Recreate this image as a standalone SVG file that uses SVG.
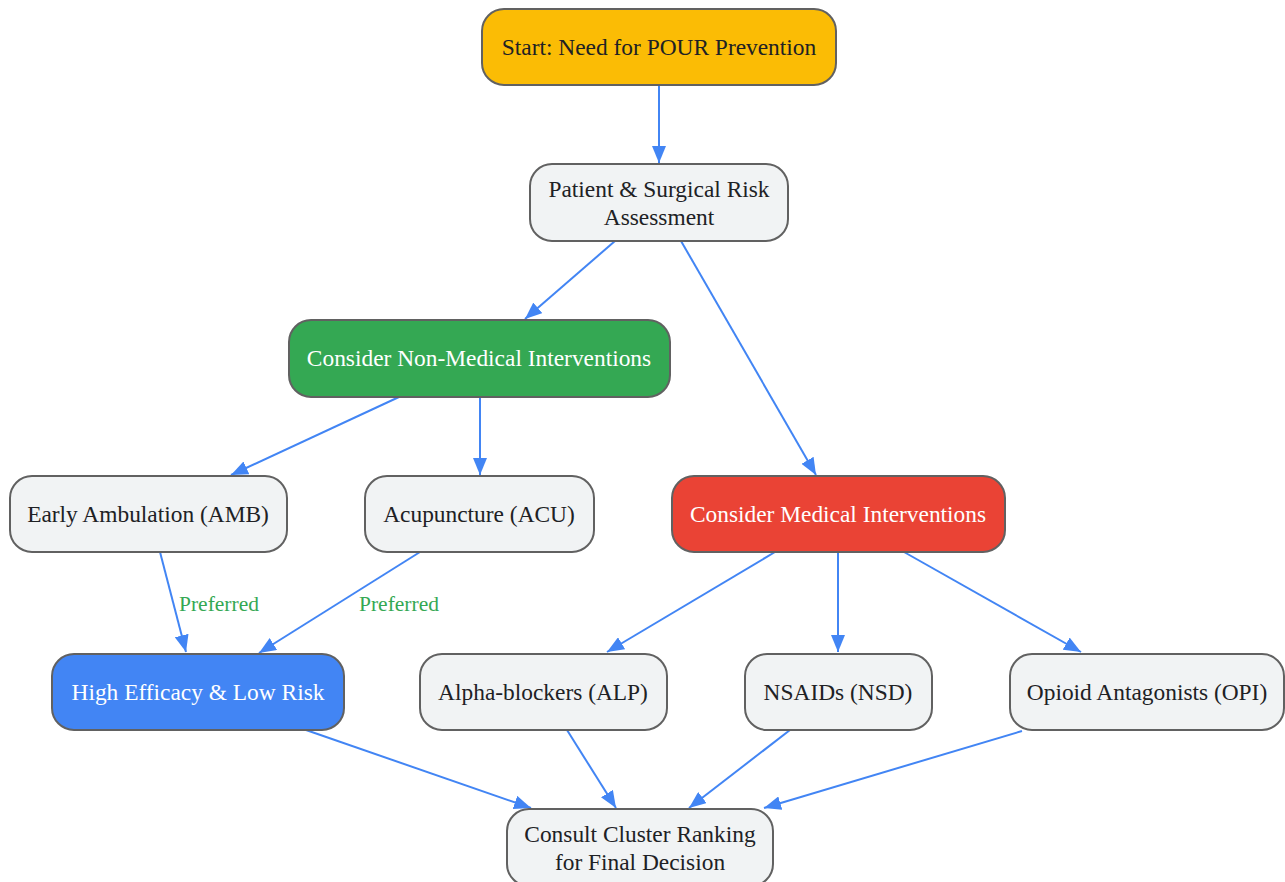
<svg xmlns="http://www.w3.org/2000/svg" width="1285" height="882" viewBox="0 0 1285 882">
<style>
.n rect{stroke:#616161;stroke-width:2}
.g rect{fill:#F1F3F4}
.n text{font-family:"Liberation Serif","Times New Roman",serif;font-size:23.4px;text-anchor:middle;dominant-baseline:central;fill:#202124}
.w text{fill:#ffffff}
.e line{stroke:#4285F4;stroke-width:2;fill:none}
.lbl{font-family:"Liberation Serif","Times New Roman",serif;font-size:21.5px;fill:#34A853;text-anchor:middle;dominant-baseline:central}
</style>
<defs>
<marker id="ah" markerUnits="userSpaceOnUse" markerWidth="18" markerHeight="14" refX="17" refY="7" orient="auto">
<path d="M0,0 L17,7 L0,14 z" fill="#4285F4"/>
</marker>
</defs>
<rect width="1285" height="882" fill="#ffffff"/>
<g id="edges" class="e">
<line x1="659" y1="85" x2="659" y2="163" marker-end="url(#ah)"/>
<line x1="615" y1="241" x2="525" y2="319" marker-end="url(#ah)"/>
<line x1="681" y1="241" x2="816" y2="475" marker-end="url(#ah)"/>
<line x1="399" y1="397" x2="231" y2="475" marker-end="url(#ah)"/>
<line x1="480" y1="397" x2="480" y2="475" marker-end="url(#ah)"/>
<line x1="160" y1="552" x2="186" y2="652" marker-end="url(#ah)"/>
<line x1="420" y1="552" x2="259" y2="653" marker-end="url(#ah)"/>
<line x1="775" y1="552" x2="607" y2="652" marker-end="url(#ah)"/>
<line x1="838" y1="552" x2="838" y2="652" marker-end="url(#ah)"/>
<line x1="904" y1="552" x2="1081" y2="652" marker-end="url(#ah)"/>
<line x1="306" y1="730" x2="531" y2="808" marker-end="url(#ah)"/>
<line x1="567" y1="730" x2="616" y2="808" marker-end="url(#ah)"/>
<line x1="790" y1="730" x2="689" y2="808" marker-end="url(#ah)"/>
<line x1="1022" y1="731" x2="764" y2="808" marker-end="url(#ah)"/>
<text class="lbl" x="219" y="604">Preferred</text>
<text class="lbl" x="399" y="604">Preferred</text>
</g>
<g id="start" class="n"><rect x="482" y="9" width="354" height="76" rx="22" fill="#FBBC05"/><text x="659" y="47">Start: Need for POUR Prevention</text></g>
<g id="assess" class="n g"><rect x="530" y="164" width="258" height="77" rx="22"/><text x="659" y="189">Patient &amp; Surgical Risk</text><text x="659" y="217">Assessment</text></g>
<g id="nonmed" class="n w"><rect x="289" y="320" width="381" height="77" rx="22" fill="#34A853"/><text x="479" y="358">Consider Non-Medical Interventions</text></g>
<g id="amb" class="n g"><rect x="10" y="476" width="277" height="76" rx="22"/><text x="148" y="514">Early Ambulation (AMB)</text></g>
<g id="acu" class="n g"><rect x="365" y="476" width="229" height="76" rx="22"/><text x="479" y="514">Acupuncture (ACU)</text></g>
<g id="med" class="n w"><rect x="672" y="476" width="333" height="76" rx="22" fill="#EA4335"/><text x="838" y="514">Consider Medical Interventions</text></g>
<g id="high" class="n w"><rect x="52" y="654" width="292" height="76" rx="22" fill="#4285F4"/><text x="198" y="692">High Efficacy &amp; Low Risk</text></g>
<g id="alp" class="n g"><rect x="420" y="654" width="247" height="76" rx="22"/><text x="543" y="692">Alpha-blockers (ALP)</text></g>
<g id="nsd" class="n g"><rect x="745" y="654" width="187" height="76" rx="22"/><text x="838" y="692">NSAIDs (NSD)</text></g>
<g id="opi" class="n g"><rect x="1010" y="654" width="274" height="76" rx="22"/><text x="1147" y="692">Opioid Antagonists (OPI)</text></g>
<g id="consult" class="n g"><rect x="507" y="809" width="266" height="77" rx="22"/><text x="640" y="834">Consult Cluster Ranking</text><text x="640" y="862">for Final Decision</text></g>
</svg>
